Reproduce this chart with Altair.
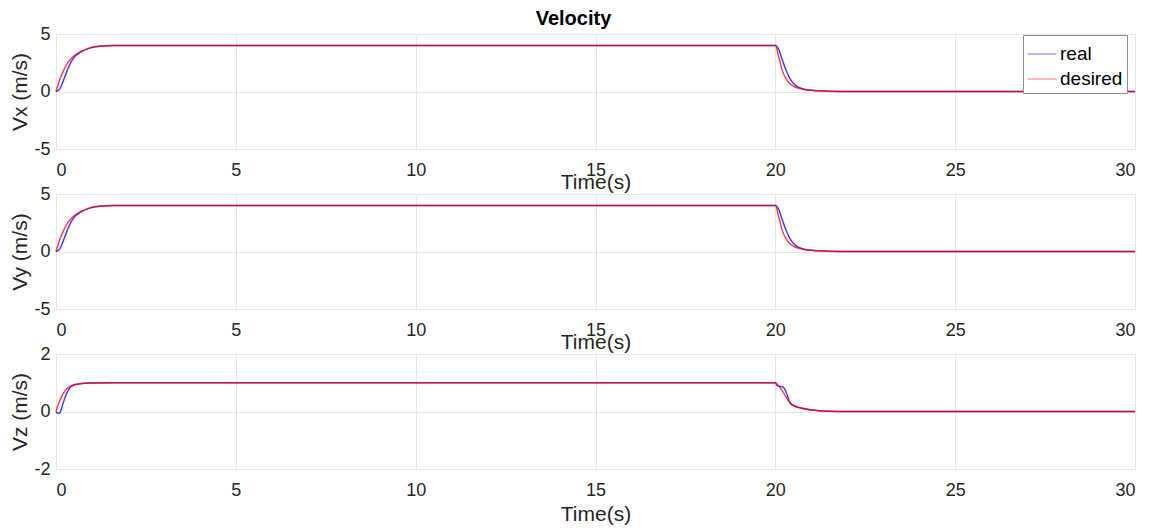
import altair as alt
import pandas as pd

# ---- data ----
vx_t = [0, 0.1, 0.2, 0.3, 0.4, 0.5, 0.7, 0.9, 1.2, 1.6, 2.0,
        20.0, 20.1, 20.2, 20.3, 20.4, 20.5, 20.6, 20.8, 21.0, 21.5, 22.0, 30.0]
vx_desired = [0, 1.0, 1.75, 2.35, 2.8, 3.1, 3.5, 3.75, 3.93, 3.99, 4.0,
              4.0, 2.95, 1.75, 1.1, 0.7, 0.48, 0.33, 0.18, 0.1, 0.03, 0.0, 0.0]
vx_real = [0, 0.2, 0.9, 1.75, 2.45, 2.95, 3.45, 3.73, 3.93, 3.99, 4.0,
           4.0, 3.6, 2.7, 1.85, 1.15, 0.72, 0.45, 0.2, 0.1, 0.03, 0.0, 0.0]

vy_t = [0, 0.1, 0.2, 0.3, 0.4, 0.5, 0.7, 0.9, 1.2, 1.6, 2.0,
        20.0, 20.1, 20.2, 20.3, 20.4, 20.5, 20.6, 20.8, 21.0, 21.5, 22.0, 30.0]
vy_desired = [0, 1.0, 1.75, 2.35, 2.8, 3.1, 3.5, 3.75, 3.93, 3.99, 4.0,
              4.0, 2.95, 1.75, 1.1, 0.7, 0.48, 0.33, 0.18, 0.1, 0.03, 0.0, 0.0]
vy_real = [0, 0.2, 0.9, 1.75, 2.45, 2.95, 3.45, 3.73, 3.93, 3.99, 4.0,
           4.0, 3.6, 2.7, 1.85, 1.15, 0.72, 0.45, 0.2, 0.1, 0.03, 0.0, 0.0]

vz_t = [0, 0.05, 0.1, 0.15, 0.2, 0.3, 0.4, 0.5, 0.7, 1.0, 1.5,
        20.0, 20.05, 20.1, 20.15, 20.2, 20.25, 20.3, 20.35, 20.4, 20.5, 20.7, 21.0, 21.5, 22.0, 30.0]
vz_desired = [0, 0.2, 0.35, 0.5, 0.62, 0.79, 0.88, 0.93, 0.97, 0.99, 1.0,
              1.0, 0.95, 0.88, 0.8, 0.72, 0.6, 0.5, 0.4, 0.32, 0.22, 0.13, 0.05, 0.01, 0.0, 0.0]
vz_real = [0, -0.06, -0.05, 0.08, 0.3, 0.64, 0.84, 0.92, 0.97, 0.99, 1.0,
           1.0, 0.9, 0.88, 0.87, 0.86, 0.8, 0.67, 0.5, 0.32, 0.2, 0.12, 0.05, 0.01, 0.0, 0.0]

series_names = ["real", "desired"]
series_colors = ["#0000ff", "#ff0000"]
x_ticks = [0, 5, 10, 15, 20, 25, 30]

FONT = "Liberation Sans"
GRID = "#e6e6e6"
TXT = "#262626"


def frame(t, real, desired):
    rows = []
    for name, vals in (("real", real), ("desired", desired)):
        for tt, v in zip(t, vals):
            rows.append({"t": tt, "v": v, "series": name})
    return pd.DataFrame(rows)


def panel(df, ytitle, ydom, yticks, time_title_y, show_legend):
    legend = None
    if show_legend:
        legend = alt.Legend(orient="none", legendX=967, legendY=1, title=None,
                            labelFontSize=19, labelFont=FONT, labelColor="#000000",
                            symbolType="stroke", symbolSize=841, symbolStrokeWidth=1,
                            symbolOpacity=0.55,
                            fillColor="white", strokeColor="#8c8c8c", padding=4,
                            rowPadding=-6, labelOffset=3, cornerRadius=0)
    return alt.Chart(df).mark_line(strokeWidth=1.5, opacity=0.75, interpolate="monotone").encode(
        x=alt.X("t:Q", scale=alt.Scale(domain=[0, 30], nice=False, zero=False),
                axis=alt.Axis(values=x_ticks, title="Time(s)", grid=True, gridColor=GRID,
                              domain=False, ticks=False, labelPadding=12,
                              labelFontSize=18, labelFont=FONT, labelColor=TXT,
                              titleFontSize=21, titleFont=FONT, titleFontWeight="normal",
                              titleColor=TXT, titleY=time_title_y, titleBaseline="alphabetic")),
        y=alt.Y("v:Q", scale=alt.Scale(domain=ydom, nice=False),
                axis=alt.Axis(values=yticks, title=ytitle, grid=True, gridColor=GRID,
                              domain=False, ticks=False, labelPadding=6,
                              labelExpr="datum.value + ''",
                              labelFontSize=18, labelFont=FONT, labelColor=TXT,
                              titleFontSize=21, titleFont=FONT, titleFontWeight="normal",
                              titleColor=TXT, titleX=-36, titleY=57.5,
                              titleAlign="center", titleBaseline="middle", titleAngle=270)),
        color=alt.Color("series:N",
                        scale=alt.Scale(domain=series_names, range=series_colors),
                        sort=series_names, legend=legend),
    ).properties(width=1079, height=115)


p1 = panel(frame(vx_t, vx_real, vx_desired), "Vx (m/s)", [-5, 5], [-5, 0, 5], 39, True)
p2 = panel(frame(vy_t, vy_real, vy_desired), "Vy (m/s)", [-5, 5], [-5, 0, 5], 39, False)
p3 = panel(frame(vz_t, vz_real, vz_desired), "Vz (m/s)", [-2, 2], [-2, 0, 2], 51, False)

chart = alt.vconcat(p1, p2, p3, spacing=45, bounds="flush").resolve_scale(
    color="independent"
).properties(
    title=alt.TitleParams("Velocity", fontSize=20, font=FONT, fontWeight="bold",
                          color="#000000", anchor="middle", offset=-4),
    padding={"left": 8, "top": 8, "right": 5, "bottom": 5},
).configure_view(stroke="#555555", strokeWidth=1).configure(background="white")

chart.save("out.html", embed_options={"renderer": "svg", "actions": False})
